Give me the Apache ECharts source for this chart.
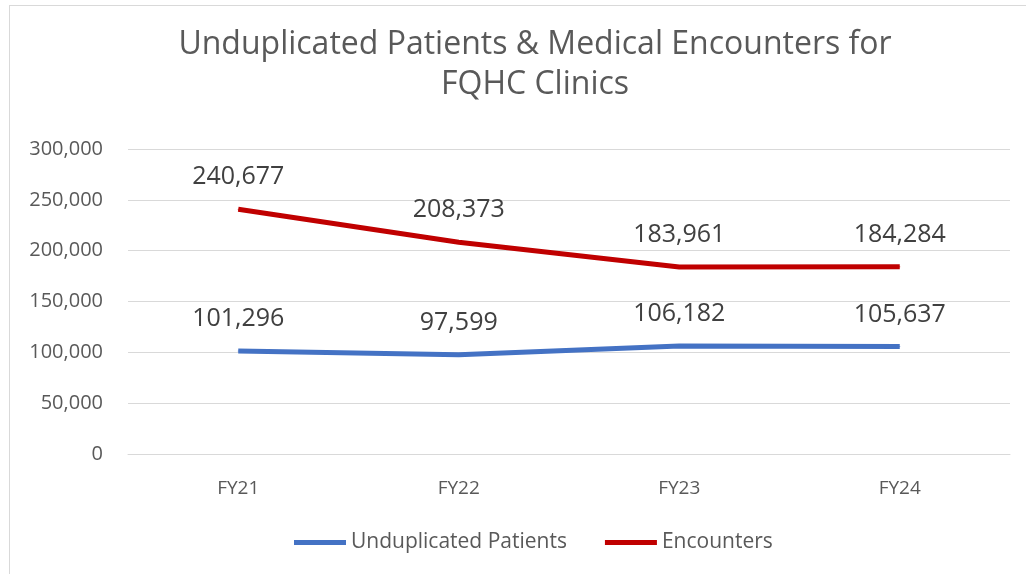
<!DOCTYPE html>
<html>
<head>
<meta charset="utf-8">
<script src="https://cdn.jsdelivr.net/npm/echarts@6/dist/echarts.min.js"></script>
<style>
    html, body { margin: 0; padding: 0; background: #fff; overflow: hidden; }
    #frame { position: absolute; left: 9px; top: 5px; width: 1040px; height: 600px;
             border: 1px solid #d9d9d9; box-sizing: border-box; }
    #chart { position: absolute; left: 0; top: 0; width: 1026px; height: 574px; }
</style>
</head>
<body>
<div id="frame"></div>
<div id="chart"></div>
<script>
    // 数据
    var categories = ['FY21', 'FY22', 'FY23', 'FY24'];
    var patients = [101296, 97599, 106182, 105637];
    var encounters = [240677, 208373, 183961, 184284];
    var yTicks = [0, 50000, 100000, 150000, 200000, 250000, 300000];

    var textColor = '#595959';
    var fontName = 'Open Sans';

    function fmt(v) {
        return v.toString().replace(/\B(?=(\d{3})+(?!\d))/g, ',');
    }

    var myChart = echarts.init(document.getElementById('chart'));
    var labelStyle = {
        show: true,
        position: 'top',
        distance: 19,
        color: '#404040',
        fontSize: 25,
        fontFamily: fontName,
        formatter: function (p) { return fmt(p.value); }
    };
    var option = {
        animation: false,
        title: {
            text: 'Unduplicated Patients & Medical Encounters for\nFQHC Clinics',
            left: 530,
            textAlign: 'center',
            top: 20,
            textStyle: { color: textColor, fontSize: 32, fontWeight: 'normal', fontFamily: fontName, lineHeight: 40 }
        },
        legend: {
            bottom: 16,
            left: 289,
            itemWidth: 52,
            itemHeight: 5,
            itemGap: 38,
            icon: 'rect',
            textStyle: { color: textColor, fontSize: 21, fontFamily: fontName },
            data: ['Unduplicated Patients', 'Encounters']
        },
        grid: { left: 128, right: 16, top: 149, bottom: 120 },
        xAxis: {
            type: 'category',
            data: categories,
            boundaryGap: true,
            axisLine: { lineStyle: { color: '#d9d9d9' } },
            axisTick: { show: false },
            axisLabel: { color: textColor, fontSize: 19, fontFamily: fontName, margin: 25 }
        },
        yAxis: {
            type: 'value',
            min: yTicks[0],
            max: yTicks[yTicks.length - 1],
            interval: 50000,
            axisLine: { show: false },
            axisTick: { show: false },
            splitLine: { lineStyle: { color: '#d9d9d9' } },
            axisLabel: { color: textColor, fontSize: 20, fontFamily: fontName, margin: 25, formatter: fmt }
        },
        series: [
            {
                name: 'Unduplicated Patients',
                type: 'line',
                data: patients,
                symbol: 'circle',
                symbolSize: 1,
                lineStyle: { width: 5, color: '#4472C4' },
                itemStyle: { color: '#4472C4' },
                label: labelStyle
            },
            {
                name: 'Encounters',
                type: 'line',
                data: encounters,
                symbol: 'circle',
                symbolSize: 1,
                lineStyle: { width: 5, color: '#C00000' },
                itemStyle: { color: '#C00000' },
                label: labelStyle
            }
        ]
    };
    myChart.setOption(option);
</script>
</body>
</html>
